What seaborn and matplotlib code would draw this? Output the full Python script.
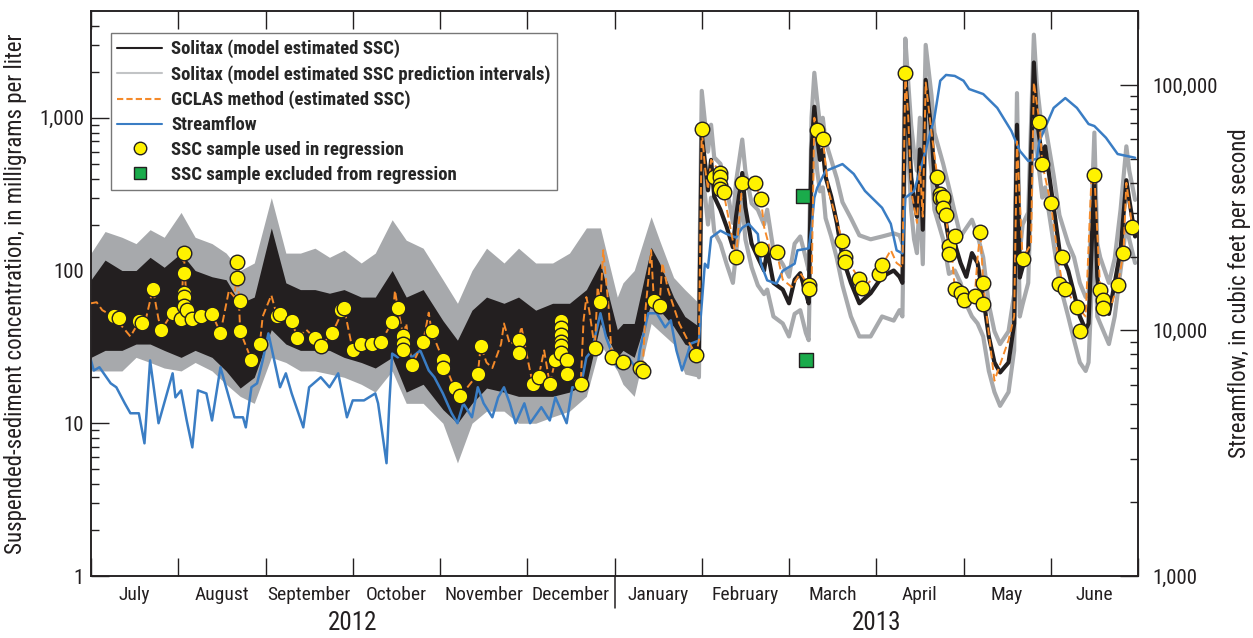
import numpy as np
import pandas as pd
import matplotlib
matplotlib.use("Agg")
import matplotlib.pyplot as plt
import matplotlib.transforms as mtransforms
from matplotlib import font_manager
from matplotlib.lines import Line2D
from matplotlib.ticker import FixedLocator, NullFormatter
import seaborn as sns

# ---- data (dates are MM-DD, Jul-Dec 2012 / Jan-Jun 2013) ----
flow_dates = ["07-01", "07-02", "07-04", "07-08", "07-10", "07-13", "07-15", "07-18", "07-20", "07-22",
              "07-25", "07-27", "07-30", "07-31", "08-02", "08-04", "08-06", "08-08", "08-11", "08-13",
              "08-16", "08-18", "08-21", "08-24", "08-25", "08-27", "08-29", "08-31", "09-02", "09-04",
              "09-06", "09-08", "09-10", "09-14", "09-16", "09-20", "09-23", "09-26", "09-29", "10-01",
              "10-05", "10-09", "10-10", "10-12", "10-13", "10-14", "10-15", "10-17", "10-20", "10-22",
              "10-25", "10-28", "10-30", "11-02", "11-05", "11-07", "11-09", "11-12", "11-14", "11-16",
              "11-19", "11-21", "11-23", "11-25", "11-27", "11-30", "12-02", "12-06", "12-09", "12-11",
              "12-15", "12-17", "12-20", "12-22", "12-24", "12-27", "12-29", "01-02", "01-04", "01-06",
              "01-09", "01-10", "01-13", "01-16", "01-19", "01-21", "01-23", "01-25", "01-27", "01-28",
              "01-31", "02-02", "02-03", "02-04", "02-07", "02-09", "02-12", "02-14", "02-16", "02-19",
              "02-20", "02-22", "02-25", "02-27", "03-03", "03-04", "03-08", "03-09", "03-10", "03-11",
              "03-14", "03-20", "03-24", "03-28", "04-03", "04-06", "04-08", "04-10", "04-11", "04-14",
              "04-17", "04-21", "04-23", "04-25", "04-28", "05-01", "05-03", "05-08", "05-13", "05-18",
              "05-21", "05-24", "05-27", "05-28", "06-02", "06-06", "06-10", "06-14", "06-16", "06-20",
              "06-24", "06-30"]
flow_cfs = [7550, 6870, 7080, 6090, 5870, 5050, 4600, 4600, 3470, 7550,
            4190, 5050, 6690, 5340, 5700, 4300, 3340, 5700, 5540, 4300,
            7080, 5870, 4430, 4430, 4030, 5870, 6090, 7550, 9730, 7550,
            5870, 6690, 5540, 4030, 5870, 6450, 5870, 6690, 4430, 5190,
            5190, 5540, 5050, 3470, 2880, 5050, 8050, 7770, 8510, 7770,
            8290, 6870, 6450, 5540, 4600, 4190, 5050, 4430, 5870, 5050,
            4430, 5340, 5870, 5050, 4190, 5050, 4190, 4870, 4300, 5340,
            4190, 5870, 5870, 7770, 8290, 11750, 9370, 7080, 7550, 7770,
            6870, 8290, 11750, 11750, 10300, 11000, 8290, 6870, 8050, 8830,
            9100, 18700, 18000, 23900, 25500, 24700, 23900, 26200, 27200, 24700,
            18700, 16000, 15500, 17500, 18700, 21200, 21600, 26200, 34700, 38100,
            44600, 47600, 43400, 37000, 31600, 27200, 21200, 20600, 34700, 37000,
            49000, 73500, 104000, 109800, 108800, 104000, 96200, 91800, 80600, 65000,
            53900, 49000, 50000, 59100, 80600, 88400, 80600, 69300, 68000, 60900,
            52300, 50500]

# Solitax Jul-Jan: dense noisy band (envelopes)
band_dates = ["07-01", "07-06", "07-12", "07-17", "07-22", "07-27", "08-02", "08-07", "08-13", "08-18",
              "08-23", "08-28", "09-03", "09-08", "09-13", "09-18", "09-23", "09-28", "10-04", "10-09",
              "10-15", "10-20", "10-26", "11-02", "11-07", "11-12", "11-17", "11-23", "11-28", "12-04",
              "12-10", "12-16", "12-22", "12-27", "01-02", "01-04", "01-08", "01-14", "01-17", "01-22",
              "01-26", "01-31"]
band_ssc_lo = [27, 30, 30, 33, 33, 30, 27, 30, 27, 22, 17, 20, 41, 33, 30, 30, 30, 27, 25, 23,
               27, 16, 18, 12.3, 10, 13.5, 17, 16, 15, 15, 15, 16, 18, 45, 27, 30, 27, 61, 55, 43, 33, 30]
band_ssc_hi = [87, 117, 100, 100, 122, 105, 130, 100, 91, 87, 61, 67, 190, 83, 75, 75, 71, 75, 67, 67,
               100, 67, 75, 47, 35, 55, 67, 61, 67, 55, 61, 61, 75, 112, 41, 45, 45, 142, 112, 67, 50, 43]
band_pi_lo = [22, 22, 22, 27, 25, 23, 22, 25, 22, 18, 15, 13.5, 27, 25, 22, 22, 21, 20, 18, 16,
              22, 13.5, 13.5, 10, 5.5, 10, 12, 12, 10, 10, 11, 12, 15, 33, 22, 18, 15, 45, 40, 33, 21, 20]
band_pi_hi = [130, 180, 165, 150, 185, 165, 240, 165, 150, 130, 100, 112, 300, 130, 130, 140, 122, 136, 112, 130,
              215, 158, 140, 87, 61, 100, 140, 112, 140, 112, 112, 130, 190, 190, 67, 83, 100, 225, 158, 90, 75, 61]

# Solitax Feb-Jun: distinct lines
line_dates = ["01-31", "02-01", "02-03", "02-04", "02-05", "02-07", "02-09", "02-11", "02-12", "02-14",
              "02-15", "02-17", "02-19", "02-21", "02-22", "02-24", "02-27", "03-01", "03-03", "03-05",
              "03-07", "03-08", "03-09", "03-10", "03-11", "03-12", "03-13", "03-14", "03-16", "03-18",
              "03-20", "03-23", "03-26", "03-30", "04-03", "04-07", "04-09", "04-10", "04-11", "04-12",
              "04-13", "04-14", "04-15", "04-16", "04-17", "04-18", "04-20", "04-21", "04-24", "04-26",
              "04-28", "04-30", "05-02", "05-04", "05-06", "05-08", "05-10", "05-12", "05-14", "05-17",
              "05-19", "05-20", "05-21", "05-22", "05-24", "05-26", "05-27", "05-29", "05-30", "06-02",
              "06-04", "06-07", "06-09", "06-11", "06-13", "06-14", "06-16", "06-17", "06-18", "06-21",
              "06-23", "06-25", "06-27", "06-28", "06-30"]
line_ssc = [30, 800, 335, 530, 305, 250, 193, 142, 225, 435,
            260, 150, 122, 100, 136, 83, 75, 61, 87, 96,
            71, 61, 620, 1180, 750, 530, 620, 410, 305, 205,
            122, 83, 61, 71, 91, 100, 91, 83, 1850, 1000,
            410, 290, 225, 620, 185, 1770, 800, 410, 260, 158,
            150, 112, 91, 130, 112, 67, 37, 25, 21.5, 25,
            45, 900, 90, 105, 136, 2300, 1000, 530, 650, 260,
            136, 100, 71, 50, 41, 45, 410, 91, 61, 52,
            83, 136, 390, 290, 167]
line_pi_lo = [20, 500, 200, 300, 180, 150, 110, 83, 130, 290,
              160, 105, 80, 70, 75, 50, 45, 37, 52, 55,
              39, 35, 350, 750, 450, 330, 350, 220, 167, 120,
              80, 50, 37, 37, 50, 47, 55, 50, 1000, 600,
              250, 160, 130, 330, 110, 1000, 450, 250, 160, 95,
              100, 83, 60, 50, 45, 37, 22, 16, 13, 16,
              30, 500, 50, 60, 83, 1300, 620, 300, 350, 150,
              83, 50, 35, 25, 22, 25, 200, 50, 45, 33,
              50, 100, 200, 160, 112]
line_pi_hi = [61, 1500, 600, 900, 550, 500, 350, 205, 380, 720,
              450, 275, 250, 200, 250, 136, 110, 91, 150, 167,
              120, 100, 1000, 1970, 1300, 900, 1000, 700, 530, 400,
              280, 220, 170, 160, 167, 175, 170, 150, 3300, 1700,
              900, 600, 450, 1000, 400, 3000, 1400, 800, 500, 350,
              240, 167, 190, 215, 170, 122, 60, 40, 33, 40,
              70, 1450, 130, 200, 240, 3500, 1700, 800, 900, 420,
              230, 150, 122, 83, 67, 70, 800, 150, 122, 83,
              120, 250, 650, 450, 290]

gclas_dates = ["07-01", "07-03", "07-05", "07-09", "07-13", "07-15", "07-18", "07-20", "07-23", "07-25",
               "07-26", "07-30", "08-02", "08-03", "08-04", "08-05", "08-06", "08-09", "08-13", "08-16",
               "08-19", "08-21", "08-22", "08-23", "08-27", "08-30", "08-31", "09-03", "09-05", "09-06",
               "09-10", "09-12", "09-15", "09-18", "09-20", "09-24", "09-28", "10-01", "10-04", "10-08",
               "10-11", "10-15", "10-16", "10-17", "10-19", "10-20", "10-22", "10-26", "10-28", "10-29",
               "11-02", "11-06", "11-08", "11-14", "11-15", "11-17", "11-19", "11-22", "11-23", "11-25",
               "11-28", "11-29", "12-01", "12-03", "12-05", "12-07", "12-09", "12-11", "12-13", "12-15",
               "12-20", "12-21", "12-22", "12-23", "12-25", "12-26", "12-27", "12-28", "12-30", "12-31",
               "01-04", "01-10", "01-11", "01-12", "01-14", "01-15", "01-17", "01-18", "01-20", "01-24",
               "01-27", "01-30", "01-31", "02-01", "02-02", "02-03", "02-04", "02-07", "02-08", "02-12",
               "02-14", "02-18", "02-20", "02-21", "02-23", "02-25", "02-27", "03-02", "03-05", "03-08",
               "03-09", "03-10", "03-11", "03-13", "03-15", "03-20", "03-21", "03-26", "03-27", "04-02",
               "04-03", "04-06", "04-08", "04-10", "04-11", "04-12", "04-13", "04-15", "04-16", "04-17",
               "04-18", "04-20", "04-22", "04-23", "04-25", "04-26", "04-27", "04-28", "04-30", "05-01",
               "05-05", "05-06", "05-07", "05-08", "05-09", "05-12", "05-17", "05-19", "05-20", "05-22",
               "05-25", "05-26", "05-28", "05-29", "05-30", "06-01", "06-04", "06-05", "06-06", "06-10",
               "06-13", "06-15", "06-16", "06-18", "06-19", "06-20", "06-22", "06-24", "06-26", "06-27",
               "06-29"]
gclas_ssc = [61, 62, 55, 50, 41, 37, 46, 44, 76, 48,
             41, 53, 48, 130, 59, 55, 48, 50, 52, 39,
             74, 67, 113, 40, 26, 33, 50, 69, 50, 52,
             47, 36, 41, 36, 32, 39, 57, 30, 33, 33,
             34, 46, 74, 57, 37, 45, 24, 34, 53, 40,
             26, 17, 15, 21, 32, 25, 23, 33, 45, 33,
             35, 43, 27, 18, 20, 30, 18, 26, 47, 21,
             18, 47, 67, 55, 31, 78, 62, 136, 55, 27,
             25, 23, 22, 55, 136, 63, 59, 112, 75, 45,
             35, 28, 35, 846, 480, 340, 530, 435, 325, 122,
             375, 375, 295, 193, 136, 133, 87, 78, 96, 80,
             75, 1000, 830, 730, 335, 155, 122, 88, 77, 95,
             108, 136, 112, 105, 1970, 1000, 335, 205, 480, 225,
             1700, 800, 410, 300, 230, 145, 128, 76, 71, 64,
             68, 122, 180, 83, 55, 19, 35, 50, 700, 119,
             150, 1700, 940, 495, 410, 275, 105, 82, 76, 58,
             50, 410, 420, 75, 64, 57, 61, 80, 130, 375,
             193]

sample_dates = ["07-09", "07-11", "07-18", "07-19", "07-23", "07-26", "07-30", "08-02", "08-03", "08-03",
                "08-03", "08-03", "08-03", "08-04", "08-06", "08-09", "08-13", "08-16", "08-22", "08-22",
                "08-23", "08-23", "08-27", "08-30", "09-05", "09-06", "09-10", "09-12", "09-18", "09-20",
                "09-24", "09-27", "09-28", "10-01", "10-04", "10-08", "10-11", "10-15", "10-17", "10-19",
                "10-19", "10-19", "10-22", "10-26", "10-29", "11-02", "11-02", "11-06", "11-08", "11-14",
                "11-15", "11-28", "11-28", "12-03", "12-05", "12-09", "12-11", "12-13", "12-13", "12-13",
                "12-13", "12-13", "12-13", "12-15", "12-15", "12-20", "12-25", "12-27", "12-31", "01-04",
                "01-10", "01-11", "01-15", "01-17", "01-30", "02-01", "02-05", "02-07", "02-07", "02-07",
                "02-07", "02-08", "02-12", "02-14", "02-18", "02-20", "02-20", "02-25", "03-08", "03-08",
                "03-11", "03-13", "03-20", "03-21", "03-21", "03-26", "03-27", "04-02", "04-03", "04-11",
                "04-22", "04-23", "04-23", "04-24", "04-24", "04-24", "04-25", "04-26", "04-26", "04-28",
                "04-28", "04-30", "05-01", "05-05", "05-07", "05-08", "05-08", "05-22", "05-28", "05-29",
                "06-01", "06-04", "06-05", "06-06", "06-10", "06-11", "06-16", "06-18", "06-19", "06-19",
                "06-24", "06-26", "06-29"]
sample_ssc = [50, 49, 47, 45, 76, 41, 53, 48, 130, 96,
              71, 67, 59, 55, 48, 50, 52, 39, 113, 89,
              63, 40, 26, 33, 50, 52, 47, 36, 36, 32,
              39, 55, 57, 30, 33, 33, 34, 46, 57, 37,
              33, 30, 24, 34, 40, 26, 23, 17, 15, 21,
              32, 35, 29, 18, 20, 18, 26, 47, 42, 38,
              34, 32, 29, 26, 21, 18, 31, 62, 27, 25,
              23, 22, 63, 59, 28, 846, 410, 435, 410, 365,
              340, 325, 122, 375, 375, 138, 295, 133, 80, 76,
              830, 730, 155, 122, 114, 88, 77, 95, 108, 1970,
              410, 315, 300, 290, 305, 255, 230, 145, 128, 167,
              76, 71, 64, 68, 180, 83, 60, 119, 940, 495,
              275, 82, 122, 76, 58, 40, 420, 75, 64, 57,
              80, 130, 193]

excluded_dates = ["03-06", "03-07"]
excluded_ssc = [308, 26]

month_names = ["July", "August", "September", "October", "November", "December",
               "January", "February", "March", "April", "May", "June"]
years = ["2012", "2013"]


def month_pos(md_list):
    # position in "months since 1 July 2012"; every month gets the same width
    full = [("2012-" if int(md[:2]) >= 7 else "2013-") + md for md in md_list]
    d = pd.DatetimeIndex(pd.to_datetime(full))
    return np.asarray((d.year - 2012) * 12 + d.month - 7 + (d.day - 1) / d.days_in_month, dtype=float)


BLACK = "#231f20"
GREY = "#a7a9ac"
LEGEND_GREY = "#c2c4c6"
BLUE = "#3a7dc4"
ORANGE = "#f58a2a"
YELLOW = "#fff200"
GREEN = "#1aab4b"

sns.set_style("ticks")
# condensed face like the original; fall back to DejaVu at a smaller size
_have = {f.name for f in font_manager.fontManager.ttflist}
_narrow = next((c for c in ["Roboto Condensed", "Archivo Narrow", "Liberation Sans Narrow",
                            "Barlow Semi Condensed"] if c in _have), None)
if _narrow:
    plt.rcParams["font.family"] = [_narrow, "DejaVu Sans"]
    k = 1.0
else:
    plt.rcParams["font.family"] = ["DejaVu Sans"]
    k = 0.78

fig = plt.figure(figsize=(12.53, 6.38), dpi=100)
rect = [91 / 1253, 62 / 638, 1047 / 1253, 565 / 638]
ax = fig.add_axes(rect)
ax.set_yscale("log")

bx = month_pos(band_dates)
ax.fill_between(bx, band_pi_lo, band_pi_hi, color=GREY, lw=0, zorder=1)
ax.fill_between(bx, band_ssc_lo, band_ssc_hi, color=BLACK, lw=0, zorder=2)

lx = month_pos(line_dates)
sns.lineplot(x=lx, y=line_pi_lo, ax=ax, color=GREY, lw=3, estimator=None, sort=False, zorder=1)
sns.lineplot(x=lx, y=line_pi_hi, ax=ax, color=GREY, lw=3, estimator=None, sort=False, zorder=1)
sns.lineplot(x=lx, y=line_ssc, ax=ax, color=BLACK, lw=3, estimator=None, sort=False, zorder=2)

# streamflow on right axis
ax2 = ax.twinx()
ax2.set_yscale("log")
sns.lineplot(x=month_pos(flow_dates), y=flow_cfs, ax=ax2, color=BLUE, lw=1.8,
             estimator=None, sort=False)

# overlay for GCLAS and samples so they sit above the streamflow line
ax3 = fig.add_axes(rect, sharex=ax, sharey=ax, facecolor="none")
sns.lineplot(x=month_pos(gclas_dates), y=gclas_ssc, ax=ax3, color=ORANGE, lw=1.4,
             linestyle=(0, (4, 2)), estimator=None, sort=False)
sns.scatterplot(x=month_pos(sample_dates), y=sample_ssc, ax=ax3, s=110, color=YELLOW,
                edgecolor=BLACK, linewidth=1, zorder=5)
sns.scatterplot(x=month_pos(excluded_dates), y=excluded_ssc, ax=ax3, s=110, marker="s",
                color=GREEN, edgecolor=BLACK, linewidth=1, zorder=5)
ax3.axis("off")

ax.set_xlim(0, 12)
ax.set_ylim(1, 5000)
ax2.set_ylim(1000, 200000)

# x axis: month boundaries as ticks, names centred between
ax.xaxis.set_major_locator(FixedLocator(np.arange(0, 13)))
ax.xaxis.set_major_formatter(NullFormatter())
ax.xaxis.set_minor_locator(FixedLocator(np.arange(12) + 0.5))
ax.set_xticklabels(month_names, minor=True)
ax.tick_params(axis="x", which="major", direction="in", length=13, width=1, top=True,
               color=BLACK)
ax.tick_params(axis="x", which="minor", length=0, pad=7, labelsize=14 * k, labelcolor=BLACK)

# left axis
ax.yaxis.set_major_locator(FixedLocator([1, 10, 100, 1000]))
ax.set_yticklabels(["1", "10", "100", "1,000"])
minor_left = [m * 10 ** e for e in range(0, 4) for m in range(2, 10) if m * 10 ** e < 5000]
ax.yaxis.set_minor_locator(FixedLocator(minor_left))
ax.yaxis.set_minor_formatter(NullFormatter())
ax.tick_params(axis="y", which="major", direction="in", length=13, width=1, pad=5,
               labelsize=15 * k, color=BLACK, labelcolor=BLACK)
ax.tick_params(axis="y", which="minor", direction="in", length=6, width=1, color=BLACK)

# right axis
ax2.yaxis.set_major_locator(FixedLocator([1000, 10000, 100000]))
ax2.set_yticklabels(["1,000", "10,000", "100,000"])
minor_right = [m * 10 ** e for e in range(3, 5) for m in range(2, 10)]
ax2.yaxis.set_minor_locator(FixedLocator(minor_right))
ax2.yaxis.set_minor_formatter(NullFormatter())
ax2.tick_params(axis="y", which="major", direction="in", length=13, width=1, pad=10,
                labelsize=15 * k, color=BLACK, labelcolor=BLACK)
ax2.tick_params(axis="y", which="minor", direction="in", length=6, width=1, color=BLACK)

for a in (ax, ax2):
    for sp in a.spines.values():
        sp.set_color(BLACK)
        sp.set_linewidth(1.1)

ax.set_ylabel("Suspended-sediment concentration, in milligrams per liter", fontsize=16.5 * k,
              color=BLACK)
ax.yaxis.set_label_coords(-0.061, 0.5)
ax2.set_ylabel("Streamflow, in cubic feet per second", fontsize=16.5 * k, color=BLACK)
ax2.yaxis.set_label_coords(1.086, 0.5)

# year labels and divider
trans = mtransforms.blended_transform_factory(ax.transData, ax.transAxes)
ax.plot([6, 6], [0, -0.056], transform=trans, color=BLACK, lw=1.1, clip_on=False)
for xc, yr in zip([3, 9], years):
    ax.text(xc, -0.083, yr, transform=trans, ha="center", va="center", fontsize=18 * k,
            color=BLACK)

handles = [
    Line2D([], [], color=BLACK, lw=1.5),
    Line2D([], [], color=LEGEND_GREY, lw=1.5),
    Line2D([], [], color=ORANGE, lw=1.5, linestyle=(0, (3, 1.5))),
    Line2D([], [], color=BLUE, lw=1.5),
    Line2D([], [], ls="none", marker="o", ms=9, markerfacecolor=YELLOW, markeredgecolor=BLACK),
    Line2D([], [], ls="none", marker="s", ms=8, markerfacecolor=GREEN, markeredgecolor=BLACK),
]
labels = ["Solitax (model estimated SSC)",
          "Solitax (model estimated SSC prediction intervals)",
          "GCLAS method (estimated SSC)",
          "Streamflow",
          "SSC sample used in regression",
          "SSC sample excluded from regression"]
leg = ax3.legend(handles, labels, loc="upper left", bbox_to_anchor=(0.019, 0.961),
                 borderaxespad=0, frameon=True, fancybox=False, edgecolor="#555555",
                 prop={"weight": "bold", "size": 13.5 * k}, handlelength=2.4,
                 labelspacing=0.36, borderpad=0.35, handletextpad=0.45)
leg.get_frame().set_linewidth(1.0)
leg.set_zorder(10)

fig.savefig("out.png", dpi=100)
